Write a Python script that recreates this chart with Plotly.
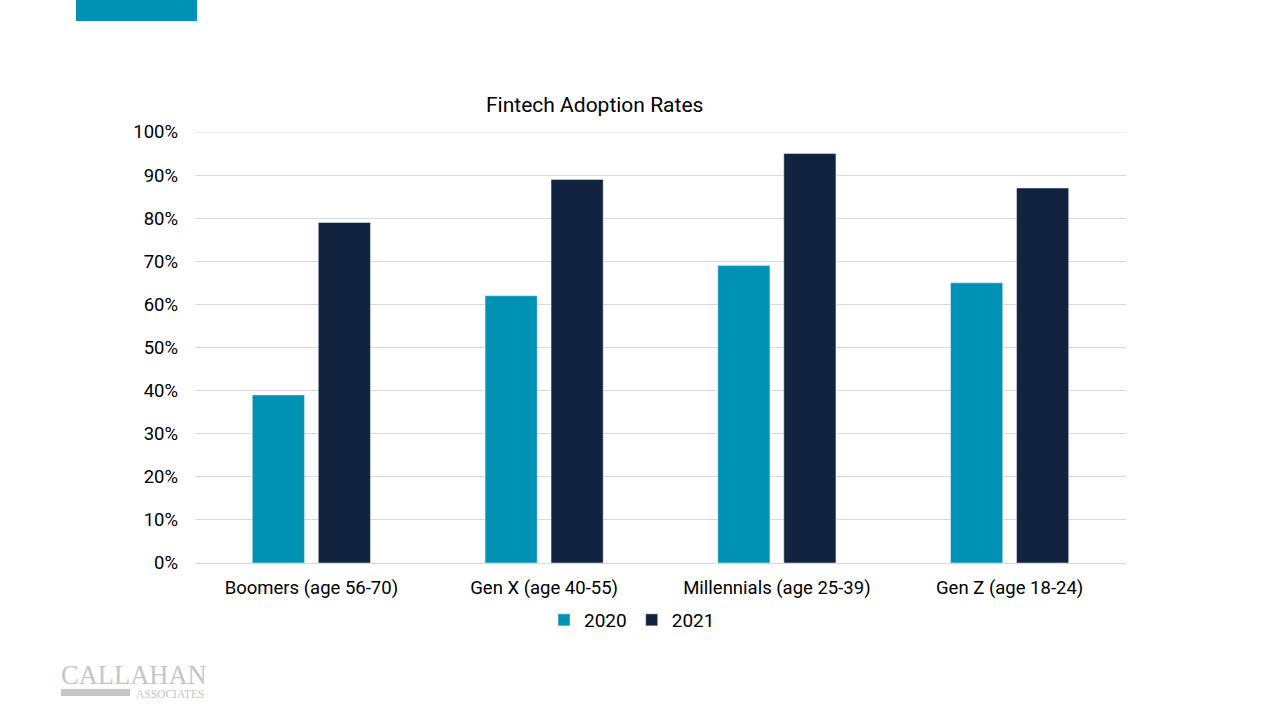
import plotly.graph_objects as go

categories = ["Boomers (age 56-70)", "Gen X (age 40-55)", "Millennials (age 25-39)", "Gen Z (age 18-24)"]
values_2020 = [39, 62, 69, 65]
values_2021 = [79, 89, 95, 87]
y_ticks = [0, 10, 20, 30, 40, 50, 60, 70, 80, 90, 100]
y_tick_labels = [f"{v}%" for v in y_ticks]

TEAL = "#0092B5"
NAVY = "#12233F"
LOGO = "#c6c6c6"
GRID = "#d9d9d9"

L, R, T, B = 195, 154, 132, 157
PW, PH = 1280 - L - R, 720 - T - B


def px(x):
    return (x - L) / PW


def py(y):
    return (720 - B - y) / PH


fig = go.Figure()
fig.add_trace(go.Bar(x=categories, y=values_2020, name="2020", marker_color=TEAL))
fig.add_trace(go.Bar(x=categories, y=values_2021, name="2021", marker_color=NAVY))

fig.update_layout(
    width=1280, height=720,
    margin=dict(l=L, r=R, t=T, b=B, autoexpand=False),
    paper_bgcolor="white", plot_bgcolor="white",
    font=dict(family="Roboto, Arial, sans-serif", size=18.5, color="#000000"),
    barmode="group", bargap=0.433, bargroupgap=0.21,
    showlegend=True,
    legend=dict(orientation="h", x=px(632), xanchor="center", y=py(620), yanchor="middle",
                font=dict(size=19), itemwidth=30, traceorder="normal"),
    xaxis=dict(showgrid=False, showline=True, linecolor=GRID, linewidth=1,
               ticks="", tickfont=dict(size=18.5), ticklabelstandoff=8),
    yaxis=dict(range=[0, 100], tickvals=y_ticks, ticktext=y_tick_labels,
               showgrid=True, gridcolor=GRID, gridwidth=1, zeroline=False,
               showline=False, ticks="", tickfont=dict(size=18.5), ticklabelstandoff=16),
    annotations=[
        dict(text="Fintech Adoption Rates", xref="paper", yref="paper",
             x=px(594), y=py(105), xanchor="center", yanchor="middle",
             showarrow=False, font=dict(size=21, color="#000000")),
        dict(text="CALLAHAN", xref="paper", yref="paper",
             x=px(59), y=py(675), xanchor="left", yanchor="middle",
             showarrow=False, font=dict(family="Liberation Serif, serif", size=26.5, color=LOGO)),
        dict(text="ASSOCIATES", xref="paper", yref="paper",
             x=px(134), y=py(693.5), xanchor="left", yanchor="middle",
             showarrow=False, font=dict(family="Liberation Serif, serif", size=11.5, color=LOGO)),
    ],
    shapes=[
        dict(type="line", xref="paper", yref="y", x0=0, x1=1, y0=100, y1=100,
             line=dict(color=GRID, width=1), layer="below"),
        dict(type="rect", xref="paper", yref="paper",
             x0=px(76), x1=px(197), y0=py(0), y1=py(21),
             fillcolor=TEAL, line=dict(width=0)),
        dict(type="rect", xref="paper", yref="paper",
             x0=px(61), x1=px(130), y0=py(689), y1=py(696),
             fillcolor=LOGO, line=dict(width=0)),
    ],
)

fig.write_html("out.html", config={"displayModeBar": False},
               post_script="document.body.style.margin='0';document.body.style.padding='0';")
